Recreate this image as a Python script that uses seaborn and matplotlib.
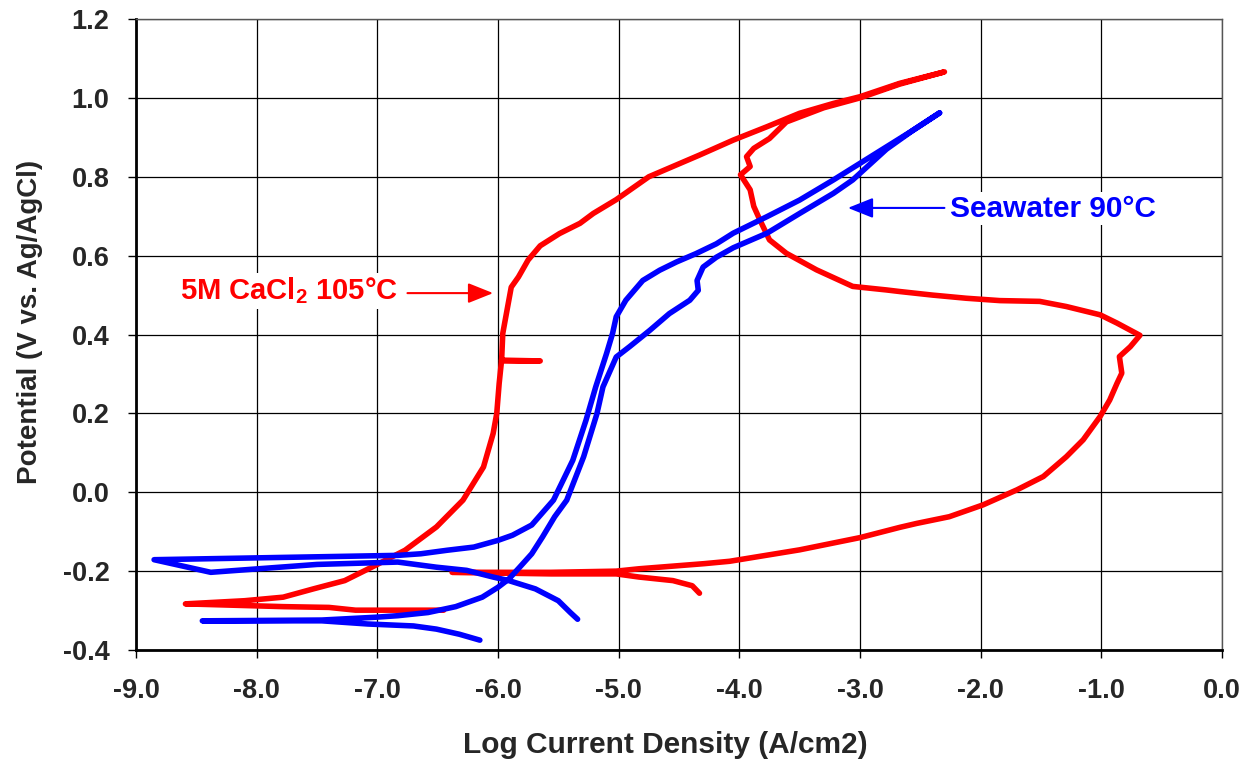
import matplotlib
matplotlib.use("Agg")
import matplotlib.pyplot as plt
import seaborn as sns
import pandas as pd

# ---- data (log i, potential) ----
# 5M CaCl2 105C scan
red_x = [-6.45, -7.18, -7.40, -7.78, -8.59, -8.10, -7.78, -7.53, -7.27, -7.02, -6.77, -6.51,
         -6.29, -6.12, -6.04, -6.01, -5.99, -5.97, -5.65, -5.97, -5.96, -5.92, -5.89, -5.83,
         -5.75, -5.65, -5.49, -5.32, -5.21, -5.02, -4.75, -4.33, -4.05, -3.77, -3.50, -3.22,
         -3.00, -2.67, -2.30, -2.67, -3.00, -3.30, -3.61, -3.75, -3.88, -3.94, -3.91, -3.99,
         -3.91, -3.88, -3.83, -3.75, -3.61, -3.36, -3.06, -2.78, -2.67, -2.40, -2.12, -1.84,
         -1.51, -1.29, -1.01, -0.87, -0.76, -0.68, -0.76, -0.85, -0.83, -0.87, -0.93, -1.01,
         -1.15, -1.29, -1.48, -1.70, -1.98, -2.26, -2.53, -2.67, -3.00, -3.50, -4.08, -4.29,
         -4.83, -5.02, -5.56, -6.38, -5.56, -5.02, -4.83, -4.55, -4.39, -4.33]
red_y = [-0.299, -0.299, -0.292, -0.290, -0.283, -0.275, -0.266, -0.245, -0.224, -0.186, -0.147, -0.088,
         -0.020, 0.064, 0.149, 0.200, 0.276, 0.335, 0.333, 0.333, 0.403, 0.470, 0.520, 0.546,
         0.589, 0.625, 0.656, 0.682, 0.707, 0.742, 0.800, 0.855, 0.893, 0.927, 0.961, 0.986,
         1.003, 1.037, 1.066, 1.035, 1.000, 0.975, 0.939, 0.897, 0.872, 0.851, 0.826, 0.805,
         0.767, 0.725, 0.691, 0.640, 0.606, 0.564, 0.522, 0.513, 0.509, 0.500, 0.492, 0.486,
         0.484, 0.471, 0.450, 0.429, 0.411, 0.398, 0.369, 0.344, 0.302, 0.276, 0.234, 0.192,
         0.133, 0.090, 0.040, 0.006, -0.032, -0.062, -0.079, -0.089, -0.115, -0.146, -0.175, -0.181,
         -0.194, -0.200, -0.203, -0.203, -0.207, -0.207, -0.215, -0.224, -0.237, -0.256]

# Seawater 90C scan
blue_x = [-6.15, -6.32, -6.51, -6.70, -7.08, -7.46, -8.45, -7.46, -7.02, -6.83, -6.58, -6.35,
          -6.13, -6.00, -5.91, -5.82, -5.72, -5.63, -5.53, -5.43, -5.29, -5.18, -5.13, -5.02,
          -4.91, -4.74, -4.58, -4.41, -4.34, -4.35, -4.30, -4.19, -4.05, -3.77, -3.50, -3.22,
          -3.06, -2.78, -2.56, -2.34, -2.56, -2.78, -3.00, -3.22, -3.50, -3.77, -4.05, -4.19,
          -4.36, -4.52, -4.66, -4.80, -4.94, -5.02, -5.05, -5.10, -5.19, -5.27, -5.38, -5.54,
          -5.72, -5.88, -6.00, -6.20, -6.42, -6.64, -6.83, -8.85, -8.38, -7.50, -6.83, -6.51,
          -6.26, -6.04, -5.91, -5.69, -5.50, -5.40, -5.34]
blue_y = [-0.375, -0.360, -0.347, -0.339, -0.334, -0.326, -0.326, -0.324, -0.317, -0.313, -0.305, -0.290,
          -0.266, -0.241, -0.220, -0.190, -0.156, -0.113, -0.062, -0.020, 0.090, 0.199, 0.267, 0.343,
          0.369, 0.411, 0.453, 0.487, 0.512, 0.537, 0.571, 0.596, 0.620, 0.657, 0.707, 0.758,
          0.792, 0.870, 0.918, 0.962, 0.918, 0.876, 0.834, 0.792, 0.741, 0.699, 0.657, 0.630,
          0.605, 0.584, 0.563, 0.537, 0.487, 0.445, 0.403, 0.352, 0.267, 0.183, 0.081, -0.020,
          -0.083, -0.109, -0.122, -0.139, -0.147, -0.156, -0.160, -0.171, -0.203, -0.183, -0.177, -0.190,
          -0.198, -0.215, -0.224, -0.245, -0.275, -0.305, -0.322]

x_ticks = [-9.0, -8.0, -7.0, -6.0, -5.0, -4.0, -3.0, -2.0, -1.0, 0.0]
y_ticks = [-0.4, -0.2, 0.0, 0.2, 0.4, 0.6, 0.8, 1.0, 1.2]

df = pd.concat([
    pd.DataFrame({"logi": red_x, "E": red_y, "run": "CaCl2"}),
    pd.DataFrame({"logi": blue_x, "E": blue_y, "run": "Seawater"}),
], ignore_index=True)

# ---- style ----
sns.set_theme(style="whitegrid")
plt.rcParams["font.family"] = ["Liberation Sans", "DejaVu Sans"]
plt.rcParams["axes.unicode_minus"] = False
plt.rcParams["mathtext.fontset"] = "custom"
plt.rcParams["mathtext.rm"] = "Liberation Sans:bold"
plt.rcParams["mathtext.default"] = "rm"

fig = plt.figure(figsize=(12.52, 7.64), dpi=100)
ax = fig.add_axes([0.1086, 0.1492, 0.8674, 0.8259])

sns.lineplot(data=df, x="logi", y="E", hue="run", palette={"CaCl2": "#ff0000", "Seawater": "#0000ff"},
             sort=False, estimator=None, linewidth=4, legend=False, ax=ax)
for line in ax.lines:
    line.set_solid_joinstyle("round")
    line.set_solid_capstyle("round")

ax.set_xlim(-9, 0)
ax.set_ylim(-0.4, 1.2)
ax.set_xticks(x_ticks)
ax.set_yticks(y_ticks)
ax.set_xticklabels([f"{v:.1f}" for v in x_ticks], fontsize=19.5, fontweight="bold")
ax.set_yticklabels([f"{v:.1f}" for v in y_ticks], fontsize=19.5, fontweight="bold")
ax.tick_params(axis="both", length=6, width=1, color="black", direction="out", bottom=True, left=True)
ax.tick_params(axis="x", pad=14)
ax.tick_params(axis="y", pad=13)

ax.grid(True, color="black", linewidth=0.9)
ax.set_facecolor("white")
for side in ["left", "bottom"]:
    ax.spines[side].set_color("black")
    ax.spines[side].set_linewidth(2)
for side in ["top", "right"]:
    ax.spines[side].set_color("#555555")
    ax.spines[side].set_linewidth(1)

ax.set_xlabel("Log Current Density (A/cm2)", fontsize=21.5, fontweight="bold")
ax.set_ylabel("Potential (V vs. Ag/AgCl)", fontsize=20, fontweight="bold")
ax.xaxis.set_label_coords(0.487, -0.128)
ax.yaxis.set_label_coords(-0.086, 0.52)

# ---- annotations ----
ax.annotate("", xy=(-6.04, 0.505), xytext=(-6.75, 0.505),
            arrowprops=dict(arrowstyle="-|>,head_length=0.55,head_width=0.22", color="#ff0000",
                            lw=1.5, mutation_scale=28, shrinkA=0, shrinkB=0))
ax.text(-8.636, 0.489, "5M CaCl$_2$ 105°C", color="#ff0000", fontsize=21, fontweight="bold",
        va="baseline", ha="left", bbox=dict(facecolor="white", edgecolor="none", pad=2))

ax.annotate("", xy=(-3.10, 0.721), xytext=(-2.30, 0.721),
            arrowprops=dict(arrowstyle="-|>,head_length=0.55,head_width=0.22", color="#0000ff",
                            lw=1.5, mutation_scale=28, shrinkA=0, shrinkB=0))
ax.text(-2.256, 0.699, "Seawater 90°C", color="#0000ff", fontsize=21.5, fontweight="bold",
        va="baseline", ha="left", bbox=dict(facecolor="white", edgecolor="none", pad=2))

fig.savefig("out.png", dpi=100)
